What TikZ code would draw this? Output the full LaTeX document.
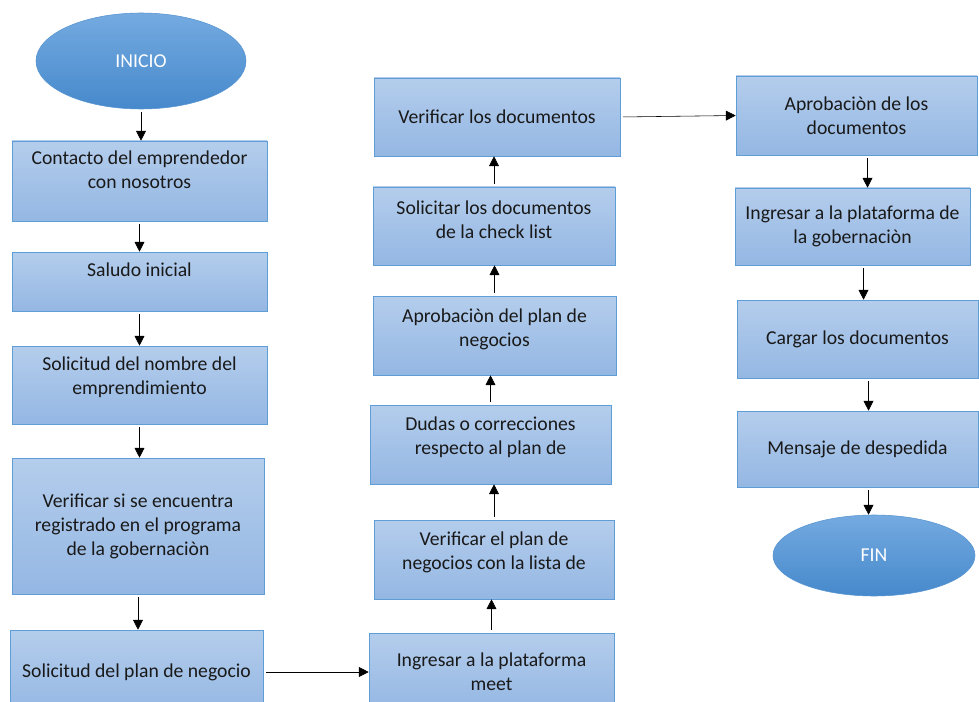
\documentclass[tikz,border=0pt]{standalone}
\usepackage{fontspec}
\setmainfont{Carlito}
\usetikzlibrary{shapes.geometric,arrows.meta}
\definecolor{boxtop}{RGB}{180,205,236}
\definecolor{boxbot}{RGB}{148,183,227}
\definecolor{boxline}{RGB}{95,157,214}
\definecolor{ovaltop}{RGB}{116,170,224}
\definecolor{ovalbot}{RGB}{70,137,204}
\tikzset{
  paso/.style 2 args={rectangle,draw=boxline,top color=boxtop,bottom color=boxbot,
    align=center,inner sep=0pt,text=black!90,
    minimum width=#1*0.025cm,minimum height=#2*0.025cm,
    font=\fontsize{14}{17}\selectfont},
  arriba/.style={text depth=#1*0.025cm},
  ovalo/.style 2 args={ellipse,draw=ovalbot!90,top color=ovaltop,bottom color=ovalbot,
    inner sep=0pt,text=white,
    minimum width=#1*0.025cm,minimum height=#2*0.025cm,
    font=\fontsize{14}{17}\selectfont},
  flecha/.style={-{Triangle[length=7pt,width=7pt]},thin,shorten <=2pt}
}
\begin{document}
\begin{tikzpicture}[x=0.025cm,y=-0.025cm]
    \useasboundingbox (0,0) rectangle (979,702);
    \clip (0,0) rectangle (979,702);
    % primera columna
    \node[ovalo={210}{96}] at (141,61) (inicio) {INICIO};
    \node[paso={255}{80},arriba=22] at (139.5,181) (contacto) {Contacto del emprendedor\\con nosotros};
    \node[paso={255}{59},arriba=24] at (139.5,281.5) (saludo) {Saludo inicial};
    \node[paso={255}{78},arriba=18] at (139.5,385) (nombre) {Solicitud del nombre del\\emprendimiento};
    \node[paso={252}{136}] at (138,526) (registro) {Verificar si se encuentra\\registrado en el programa\\de la gobernaciòn};
    \node[paso={253}{84}] at (136.5,672) (plan) {Solicitud del plan de negocio};
    % segunda columna
    \node[paso={245}{78}] at (491.5,672) (meet) {Ingresar a la plataforma\\meet};
    \node[paso={240}{79},arriba=18] at (494,559.5) (lista) {Verificar el plan de\\negocios con la lista de};
    \node[paso={241}{79},arriba=18] at (490.5,444.5) (dudas) {Dudas o correcciones\\respecto al plan de};
    \node[paso={243}{79},arriba=16] at (494.5,335.5) (aprobplan) {Aprobaciòn del plan de\\negocios};
    \node[paso={242}{78},arriba=12] at (494,226) (checklist) {Solicitar los documentos\\de la check list};
    \node[paso={246}{78}] at (497,117) (verifdocs) {Verificar los documentos};
    % tercera columna
    \node[paso={241}{79}] at (856.5,115.5) (aprobdocs) {Aprobaciòn de los\\documentos};
    \node[paso={235}{77}] at (852.5,226.5) (gob) {Ingresar a la plataforma de\\la gobernaciòn};
    \node[paso={241}{78}] at (857.5,339) (cargar) {Cargar los documentos};
    \node[paso={241}{76}] at (857.5,449) (despedida) {Mensaje de despedida};
    \node[ovalo={202}{81}] at (874,555.5) (fin) {FIN};
    % flechas hacia abajo
    \foreach \a/\b in {inicio/contacto,contacto/saludo,saludo/nombre,nombre/registro,registro/plan}{
        \draw[flecha] (\a.south) -- (\a.south |- \b.north);
    }
    \foreach \a/\b in {aprobdocs/gob,gob/cargar,cargar/despedida,despedida/fin}{
        \draw[flecha] ([xshift=11*0.025cm]\a.south) -- ([xshift=11*0.025cm]\a.south |- \b.north);
    }
    % flechas hacia arriba
    \foreach \a/\b in {meet/lista,lista/dudas,dudas/aprobplan,aprobplan/checklist,checklist/verifdocs}{
        \draw[flecha] (\a.north) -- (\a.north |- \b.south);
    }
    \draw[flecha] (plan.east) -- (meet.west);
    \draw[flecha] (verifdocs.east) -- (aprobdocs.west);
\end{tikzpicture}
\end{document}
